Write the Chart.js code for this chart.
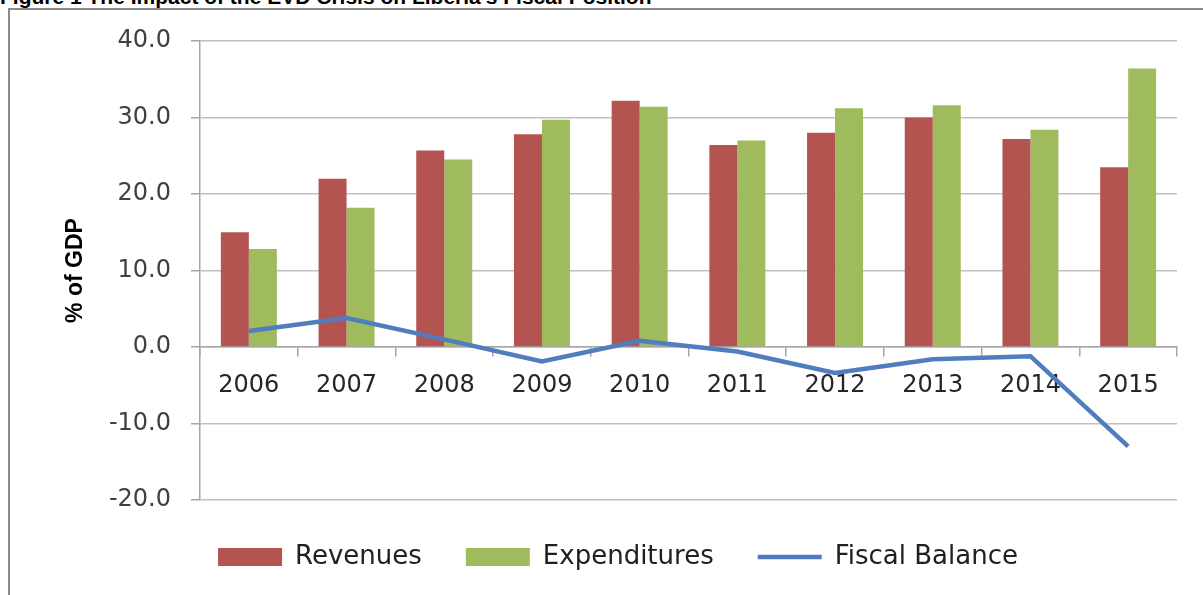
<!DOCTYPE html>
<html>
<head>
<meta charset="utf-8">
<script src="https://cdn.jsdelivr.net/npm/chart.js@4.4.1/dist/chart.umd.min.js"></script>
<style>
  html, body { margin: 0; padding: 0; background: #ffffff; overflow: hidden; }
  #wrap { position: relative; width: 1203px; height: 595px; overflow: hidden; }
  #title { position: absolute; left: 0; top: -14px; font: bold 21px "Liberation Sans", Arial, sans-serif; line-height: 21px; color: #000; white-space: nowrap; }
  #frame { position: absolute; left: 8px; top: 8px; width: 1300px; height: 700px; border-top: 2px solid #8a8a8a; border-left: 2px solid #8a8a8a; }
  #c { position: absolute; left: 0; top: 0; }
</style>
</head>
<body>
<div id="wrap">
  <div id="title">Figure 1 The Impact of the EVD Crisis on Liberia's Fiscal Position</div>
  <div id="frame"></div>
  <canvas id="c" width="1203" height="595"></canvas>
</div>
<script>
const years = ['2006', '2007', '2008', '2009', '2010', '2011', '2012', '2013', '2014', '2015'];
const revenues = [15.0, 22.0, 25.7, 27.8, 32.2, 26.4, 28.0, 30.0, 27.2, 23.5];
const expenditures = [12.8, 18.2, 24.5, 29.7, 31.4, 27.0, 31.2, 31.6, 28.4, 36.4];
const fiscalBalance = [2.1, 3.8, 1.0, -1.9, 0.8, -0.6, -3.4, -1.6, -1.2, -13.0];
const yMin = -20, yMax = 40, yStep = 10;
const yTitle = '% of GDP';

const tickFont = { family: 'DejaVu Sans', size: 24 };
const gridColor = '#c0c0c0';
const axisColor = '#a6a6a6';

new Chart(document.getElementById('c'), {
  data: {
    labels: years,
    datasets: [
      { type: 'bar', label: 'Revenues', data: revenues, backgroundColor: '#b35450', borderWidth: 0,
        categoryPercentage: 0.573, barPercentage: 1.0, order: 2, pointStyle: 'rect' },
      { type: 'bar', label: 'Expenditures', data: expenditures, backgroundColor: '#9fbb5e', borderWidth: 0,
        categoryPercentage: 0.573, barPercentage: 1.0, order: 2, pointStyle: 'rect' },
      { type: 'line', label: 'Fiscal Balance', data: fiscalBalance, borderColor: '#4f7dbe', backgroundColor: '#4f7dbe',
        borderWidth: 4.5, pointRadius: 0, tension: 0, order: 0, pointStyle: 'line' }
    ]
  },
  options: {
    responsive: false,
    animation: false,
    layout: { padding: { left: 33, right: 0, top: 41, bottom: 15 } },
    plugins: {
      tooltip: { enabled: false },
      legend: {
        position: 'bottom',
        labels: {
          font: { family: 'DejaVu Sans', size: 26 },
          color: '#202020',
          usePointStyle: true,
          pointStyleWidth: 64,
          boxHeight: 18,
          padding: 44,
          sort: (a, b) => a.datasetIndex - b.datasetIndex
        }
      }
    },
    scales: {
      x: {
        type: 'category',
        position: { y: 0 },
        offset: true,
        grid: { display: true, offset: true, drawOnChartArea: false, drawTicks: true, tickLength: 9, color: axisColor, lineWidth: 1.5 },
        border: { display: true, color: axisColor, width: 1.5 },
        ticks: { font: tickFont, color: '#262626', padding: 15, maxRotation: 0, autoSkip: false }
      },
      y: {
        type: 'linear',
        position: 'left',
        min: yMin, max: yMax,
        afterFit: (s) => { s.width = 167; },
        grid: { color: gridColor, lineWidth: 1.5, tickLength: 9, tickColor: axisColor },
        border: { display: true, color: axisColor, width: 1.5 },
        ticks: { stepSize: yStep, font: tickFont, color: '#404040', padding: 20,
                 callback: (v) => Number(v).toFixed(1) },
        title: { display: true, text: yTitle, font: { family: 'Liberation Sans', size: 23, weight: 'bold' },
                 color: '#000000', padding: { top: 29, bottom: 0 } }
      },
      yR: {
        type: 'linear',
        position: 'right',
        display: true,
        afterFit: (s) => { s.width = 26; },
        grid: { display: false },
        border: { display: false },
        ticks: { display: false }
      }
    }
  }
});
</script>
</body>
</html>
